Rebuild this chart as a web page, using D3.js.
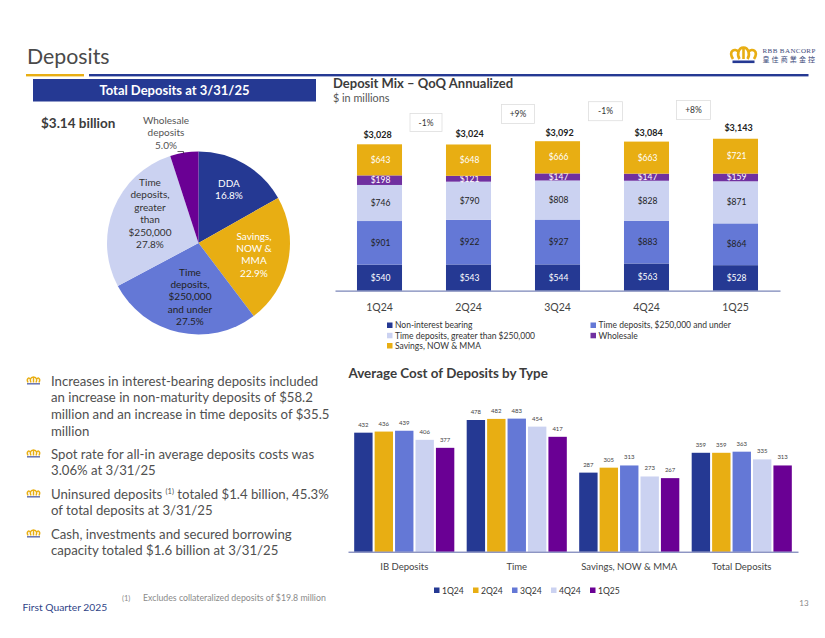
<!DOCTYPE html>
<html><head><meta charset="utf-8">
<script src="https://cdn.jsdelivr.net/npm/d3@7"></script>
<style>
html,body{margin:0;padding:0;background:#fff}
svg{display:block}
text{font-family:Lato,"Noto Sans",sans-serif}
</style></head><body>
<svg id="c" width="825" height="638"></svg>
<script>
const NAVY="#253993",GOLD="#E8AE13",BLUE="#6478D6",LIGHT="#CBD2F1",PURPLE="#6A0094",MIXPURPLE="#7030A0";
const TEXT="#444444";

const pieLabels=[["DDA","16.8%"],["Savings,","NOW &","MMA","22.9%"],["Time","deposits,","$250,000","and under","27.5%"],["Time","deposits,","greater","than","$250,000","27.8%"],["Wholesale","deposits","5.0%"]];
const pieValues=[16.8,22.9,27.5,27.8,5.0];
const pieColors=[NAVY,GOLD,BLUE,LIGHT,PURPLE];
const pieTextColors=["#fff","#fff","#222","#333","#555"];

const quarters=["1Q24","2Q24","3Q24","4Q24","1Q25"];
const stackNames=["Non-interest bearing","Time deposits, $250,000 and under","Time deposits, greater than $250,000","Wholesale","Savings, NOW & MMA"];
const nonInterest=[540,543,544,563,528];
const timeUnder=[901,922,927,883,864];
const timeOver=[746,790,808,828,871];
const wholesale=[198,121,147,147,159];
const savings=[643,648,666,663,721];
const stackTotals=[3028,3024,3092,3084,3143];
const qoqLabels=["-1%","+9%","-1%","+8%"];
const stackColors=[NAVY,BLUE,LIGHT,MIXPURPLE,GOLD];
const stackTextColors=["#fff","#222","#222","#fff","#fff"];

const costCategories=["IB Deposits","Time","Savings, NOW & MMA","Total Deposits"];
const cost1Q24=[432,478,287,359];
const cost2Q24=[436,482,305,359];
const cost3Q24=[439,483,313,363];
const cost4Q24=[406,454,273,335];
const cost1Q25=[377,417,267,313];

const bullets=[["Increases in interest-bearing deposits included","an increase in non-maturity deposits of $58.2","million and an increase in time deposits of $35.5","million"],["Spot rate for all-in average deposits costs was","3.06% at 3/31/25"],["Uninsured deposits |(1)| totaled $1.4 billion, 45.3%","of total deposits at 3/31/25"],["Cash, investments and secured borrowing","capacity totaled $1.6 billion at 3/31/25"]];

const svg=d3.select("#c");
function t(x,y,s,o={}){
  const e=svg.append("text").attr("x",x).attr("y",y).text(s)
    .attr("font-size",o.size||12).attr("fill",o.fill||TEXT).attr("text-anchor",o.anchor||"start");
  if(o.weight)e.attr("font-weight",o.weight);
  if(o.ls!=null)e.style("letter-spacing",o.ls+"px");
  return e;
}

// header
t(27,63.5,"Deposits",{size:21.3,fill:"#4a4a4a"});
svg.append("rect").attr("x",26).attr("y",74).attr("width",58).attr("height",2.4).attr("fill",GOLD);
svg.append("rect").attr("x",89).attr("y",74).attr("width",719.5).attr("height",2.4).attr("fill",NAVY);
svg.append("rect").attr("x",33).attr("y",79).attr("width",283).attr("height",22.5).attr("fill",NAVY);
t(174.5,95,"Total Deposits at 3/31/25",{size:13,fill:"#fff",weight:700,anchor:"middle"});
t(41,128,"$3.14 billion",{size:13.5,weight:700,fill:"#3c3c3c"});

// logo
const logo=svg.append("g").attr("transform","translate(730,46)");
logo.append("path").attr("fill","none").attr("stroke",GOLD).attr("stroke-width",2.6)
 .attr("d","M3,13 C-2,5 5,1.5 8.5,6 C9.5,2.5 11.5,1.5 13.5,1.5 C15.5,1.5 17.5,2.5 18.5,6 C22,1.5 29,5 24,13 M8.5,6 C7.5,9 8.5,11.5 9.5,13 M18.5,6 C19.5,9 18.5,11.5 17.5,13 M13.5,1.5 L13.5,13");
logo.append("rect").attr("x",2.5).attr("y",14.5).attr("width",22).attr("height",2.6).attr("fill",NAVY);
t(762.5,53,"RBB BANCORP",{size:7,fill:"#3c4a7a"}).style("font-family","'Liberation Serif',serif").style("letter-spacing","0.4px");
t(762.5,61.5,"皇佳商業金控",{size:7,fill:"#3c4a7a"}).style("font-family","'Noto Sans CJK TC'").style("letter-spacing","2.1px");

// pie
const pieG=svg.append("g").attr("transform","translate(198.5,243)");
const pie=d3.pie().sort(null)(pieValues);
const arc=d3.arc().innerRadius(0).outerRadius(91.5);
pieG.selectAll("path").data(pie).join("path").attr("d",arc).attr("fill",(d,i)=>pieColors[i]);
const pieAnchors=[[229,186.5],[254,239.5],[190,275.5],[150,186],[166,124]];
pieLabels.forEach((ls,i)=>{
  ls.forEach((s,j)=>t(pieAnchors[i][0],pieAnchors[i][1]+j*12.4,s,{size:10,fill:pieTextColors[i],anchor:"middle"}));
});
svg.append("path").attr("fill","none").attr("stroke","#222").attr("stroke-width",0.7).attr("d","M177.5,151.5 H183.5 V153.5");

// stacked chart
t(333,88,"Deposit Mix – QoQ Annualized",{size:13,weight:700,fill:"#3c3c3c"});
t(333,102,"$ in millions",{size:10.8,fill:"#555"});
const sx=d3.scaleBand().domain(quarters).range([335,780]).paddingInner(0.494).paddingOuter(0.247);
const sy=d3.scaleLinear().domain([0,3028]).range([290.7,144.3]);
const stackRows=quarters.map((q,i)=>({q,k0:nonInterest[i],k1:timeUnder[i],k2:timeOver[i],k3:wholesale[i],k4:savings[i]}));
const stack=d3.stack().keys(["k0","k1","k2","k3","k4"])(stackRows);
stack.forEach((layer,li)=>{
  const g=svg.append("g");
  g.selectAll("rect").data(layer).join("rect")
   .attr("x",d=>sx(d.data.q)).attr("width",sx.bandwidth())
   .attr("y",d=>sy(d[1])).attr("height",d=>sy(d[0])-sy(d[1])).attr("fill",stackColors[li]);
  g.selectAll("text").data(layer).join("text")
   .attr("x",d=>sx(d.data.q)+sx.bandwidth()/2+1).attr("y",d=>(sy(d[0])+sy(d[1]))/2+3)
   .attr("text-anchor","middle").attr("font-size",8.5).attr("fill",stackTextColors[li])
   .text(d=>"$"+(d[1]-d[0]));
});
const totalDx=[-2,1,2,2,3],totalGap=[6.5,7.5,5.5,5.8,8];
svg.append("g").selectAll("text").data(stackRows).join("text")
  .attr("x",(d,i)=>sx(d.q)+sx.bandwidth()/2+totalDx[i]).attr("y",(d,i)=>sy(stackTotals[i])-totalGap[i])
  .attr("text-anchor","middle").attr("font-size",9).attr("font-weight",700).attr("fill","#222")
  .text((d,i)=>"$"+d3.format(",")(stackTotals[i]));
const sAxis=svg.append("g").attr("transform","translate(0,290.7)").call(d3.axisBottom(sx).tickSize(0).tickPadding(13));
sAxis.select(".domain").attr("stroke","#7b86b8").attr("stroke-width",1.3);
sAxis.selectAll("text").attr("font-size",10.5).attr("fill","#444").style("font-family","Lato");
// QoQ boxes
const boxX=[410,501.5,588.5,676.5],boxY=[113.5,104.5,101.7,100.5],boxW=[32,33,34,34],boxH=[18,19,19,19];
qoqLabels.forEach((s,i)=>{
  svg.append("rect").attr("x",boxX[i]).attr("y",boxY[i]).attr("width",boxW[i]).attr("height",boxH[i]).attr("fill","#fff").attr("stroke","#dedede").attr("stroke-width",0.8);
  t(boxX[i]+boxW[i]/2,boxY[i]+12.5,s,{size:8.5,anchor:"middle",fill:"#333"});
});
// stacked legend
const legPos=[[387,325.5],[590.5,325.5],[387,335.8],[590.5,335.8],[387,346]];
[0,1,2,3,4].forEach(i=>{
  svg.append("rect").attr("x",legPos[i][0]).attr("y",legPos[i][1]-3).attr("width",5.5).attr("height",5.5).attr("fill",stackColors[i]);
  t(legPos[i][0]+8,legPos[i][1]+2.8,stackNames[i],{size:8.5,fill:"#333"});
});

// clustered chart
t(348.5,378,"Average Cost of Deposits by Type",{size:13.4,weight:700,fill:"#3c3c3c"});
const costSeries=[cost1Q24,cost2Q24,cost3Q24,cost4Q24,cost1Q25];
const costColors=[NAVY,GOLD,BLUE,LIGHT,PURPLE];
const cx=d3.scaleBand().domain(costCategories).range([348,798]).paddingInner(0.11).paddingOuter(0.055);
const cx1=d3.scaleBand().domain(quarters).range([0,cx.bandwidth()]).paddingInner(0.1);
const cy=d3.scaleLinear().domain([0,478]).range([551.7,420]);
costSeries.forEach((vals,si)=>{
  const g=svg.append("g");
  g.selectAll("rect").data(vals).join("rect")
   .attr("x",(d,i)=>cx(costCategories[i])+cx1(quarters[si])).attr("width",cx1.bandwidth())
   .attr("y",d=>cy(d)).attr("height",d=>cy(0)-cy(d)).attr("fill",costColors[si]);
  g.selectAll("text").data(vals).join("text")
   .attr("x",(d,i)=>cx(costCategories[i])+cx1(quarters[si])+cx1.bandwidth()/2).attr("y",d=>cy(d)-6)
   .attr("text-anchor","middle").attr("font-size",6).attr("fill","#444").text(d=>d);
});
const cAxis=svg.append("g").attr("transform","translate(0,551.7)").call(d3.axisBottom(cx).tickSize(0).tickPadding(12));
cAxis.select(".domain").attr("stroke","#5a66a8").attr("stroke-width",1);
cAxis.selectAll("text").attr("font-size",9.5).attr("fill","#444").style("font-family","Lato");
const cLegX=[434,473,512,551,590];
quarters.forEach((q,i)=>{
  svg.append("rect").attr("x",cLegX[i]).attr("y",587.5).attr("width",5.5).attr("height",5.5).attr("fill",costColors[i]);
  t(cLegX[i]+8,594,q,{size:8.6,fill:"#333"});
});
t(804,606,"13",{size:8,fill:"#888",anchor:"middle"});

// bullets
const bulletY=[385.5,458.5,498.5,538.5];
bullets.forEach((ls,i)=>{
  const c=svg.append("g").attr("transform",`translate(26,${bulletY[i]-9})`);
  c.append("path").attr("fill","none").attr("stroke",GOLD).attr("stroke-width",1.5)
   .attr("d","M2,6 C0,2 3,0.5 4.5,2.5 C5,1 7,0.5 7.5,0.5 C8,0.5 10,1 10.5,2.5 C12,0.5 15,2 13,6 M4.5,2.5 C4,4 4.5,5 5,6 M10.5,2.5 C11,4 10.5,5 10,6 M7.5,0.5 L7.5,6");
  c.append("rect").attr("x",1).attr("y",6.6).attr("width",13).attr("height",1.4).attr("fill",NAVY).attr("opacity",.75);
  ls.forEach((s,j)=>{
    const yy=bulletY[i]+j*16.67;
    if(s.includes("|")){
      const parts=s.split("|");
      const e=t(51,yy,"",{size:13.2,fill:"#505050"});
      e.append("tspan").text(parts[0]);
      e.append("tspan").text(parts[1]).attr("font-size",7.5).attr("dy",-4.5);
      e.append("tspan").text(parts[2]).attr("dy",4.5);
    } else t(51,yy,s,{size:13.2,fill:"#505050"});
  });
});
t(122,601,"(1)",{size:7.5,fill:"#8a8a8a"});
t(143,601,"Excludes collateralized deposits of $19.8 million",{size:8.75,fill:"#8a8a8a"});
t(22.5,610.5,"First Quarter 2025",{size:10.3,fill:"#2f4487"});
</script>
</body></html>
